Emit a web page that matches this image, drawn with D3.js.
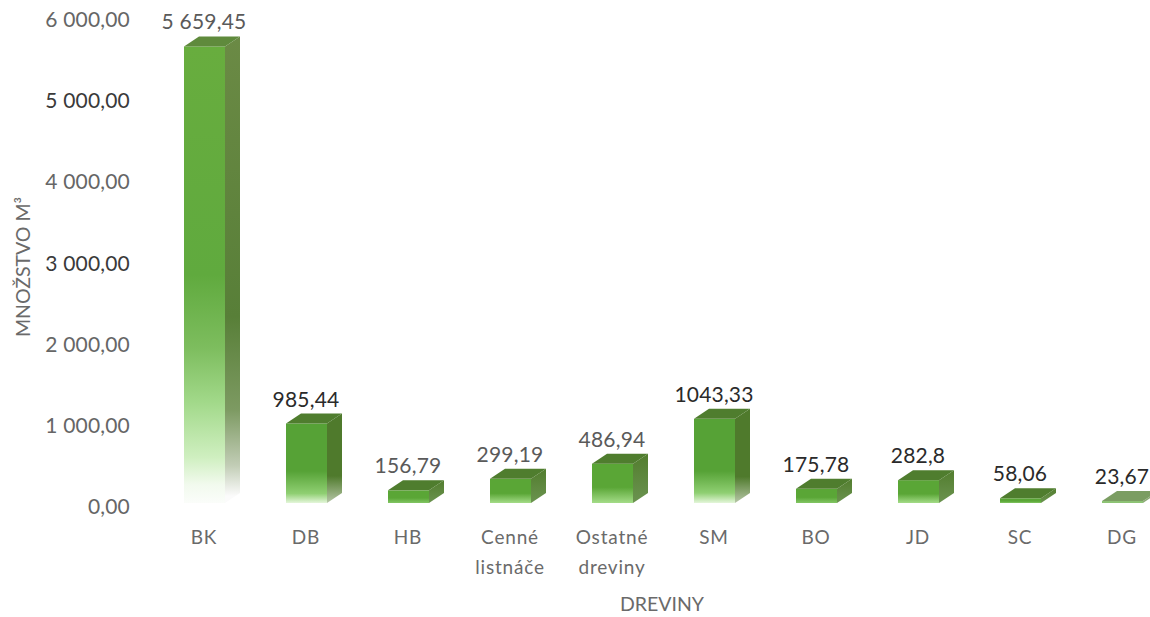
<!DOCTYPE html>
<html><head><meta charset="utf-8">
<script src="https://cdn.jsdelivr.net/npm/d3@7"></script>
<style>html,body{margin:0;background:#fff}svg{display:block}text{font-family:Lato,sans-serif}</style>
</head><body><svg id="c" width="1150" height="617"></svg>
<script>
const categories=["BK","DB","HB","Cenné listnáče","Ostatné dreviny","SM","BO","JD","SC","DG"];
const values=[5659.45,985.44,156.79,299.19,486.94,1043.33,175.78,282.8,58.06,23.67];
const valueLabels=["5 659,45","985,44","156,79","299,19","486,94","1043,33","175,78","282,8","58,06","23,67"];
const yTicks=[0,1000,2000,3000,4000,5000,6000];
const fmt=v=>d3.format(",.2f")(v).replace(/,/g," ").replace(".",",");
const svg=d3.select("#c").style("overflow","hidden");
const x=d3.scaleBand().domain(categories).range([153,1173]);
const y=d3.scaleLinear().domain([0,6000]).range([503,19]);
const yLabel=d3.scaleLinear().domain([0,6000]).range([514,27]);
const dx=15,dy=10,bw=41;
const defs=svg.append("defs");
function grad(id,stops){const g=defs.append("linearGradient").attr("id",id).attr("x1",0).attr("x2",0).attr("y1",0).attr("y2",1);
 stops.forEach(([o,col])=>g.append("stop").attr("offset",o).attr("stop-color",col));}
const gb=svg.append("g");
const darkLabels=new Set([1,5,6,7,8,9]);
categories.forEach((c,i)=>{
 const v=values[i],C=x(c)+x.bandwidth()/2,L=C-20,T=y(v),B=y(0),h=B-T;
 let front,side;
 if(i==0){
  front=[[0,"#68ad3e"],[0.5,"#60aa3e"],[0.66,"#7dbd5e"],[0.78,"#a2d98a"],[0.9,"#cfefc0"],[0.96,"#f2faee"],[1,"#fbfdfa"]];
  side=[[0,"#6b8a45"],[0.6,"#587f38"],[0.8,"#7d9a62"],[0.92,"#c2cdb6"],[0.985,"#fbfbfb"]];
 } else if(h>70){
  const o=1-32/h;
  front=[[0,"#56a236"],[o,"#56a236"],[0.88,"#8fcf72"],[1,"#e4f6da"]];
  side=[[0,"#4f7a2c"],[o+0.1,"#4f7a2c"],[1,"#b7c7a8"]];
 } else {
  front=[[0,"#5aa636"],[0.6,"#5aa636"],[1,h>15?"#a4dc88":"#82c664"]];
  side=[[0,"#527d2e"],[1,"#6b9350"]];
 }
 grad("f"+i,front);grad("s"+i,side);
 const g=gb.append("g").attr("opacity",i==9?0.75:1);
 g.append("path").attr("fill",`url(#s${i})`).attr("d",d3.line()([[L+bw,T],[L+bw+dx,T-dy],[L+bw+dx,B-dy],[L+bw,B]])+"Z");
 g.append("rect").attr("x",L).attr("y",T).attr("width",bw).attr("height",h).attr("fill",`url(#f${i})`);
 g.append("path").attr("fill",i==0?"#5f8a3c":"#4f7d2e").attr("d",d3.line()([[L,T],[L+dx,T-dy],[L+bw+dx,T-dy],[L+bw,T]])+"Z");
 svg.append("text").attr("x",C).attr("y",T-dy-7).attr("text-anchor","middle").attr("font-size",21).attr("letter-spacing",0.2).attr("fill",darkLabels.has(i)?"#2a2a2a":"#5a5a5a").text(valueLabels[i]);
 const t=svg.append("text").attr("text-anchor","middle").attr("font-size",19).attr("fill","#6a6a6a").attr("letter-spacing",0.8);
 c.split(" ").forEach((w,k)=>t.append("tspan").attr("x",C).attr("y",544+k*30).text(w));
});
svg.selectAll(".yt").data(yTicks).join("text").attr("class","yt").attr("x",130).attr("y",d=>yLabel(d)).attr("text-anchor","end").attr("font-size",21).attr("letter-spacing",0.2).attr("fill",d=>(d==5000||d==3000)?"#3a3a3a":"#666").text(fmt);
svg.append("text").attr("transform","translate(30,267) rotate(-90)").attr("text-anchor","middle").attr("font-size",19.5).attr("fill","#6a6a6a").text("MNOŽSTVO M³");
svg.append("text").attr("x",662).attr("y",611).attr("text-anchor","middle").attr("font-size",19.5).attr("fill","#6a6a6a").text("DREVINY");
</script></body></html>
